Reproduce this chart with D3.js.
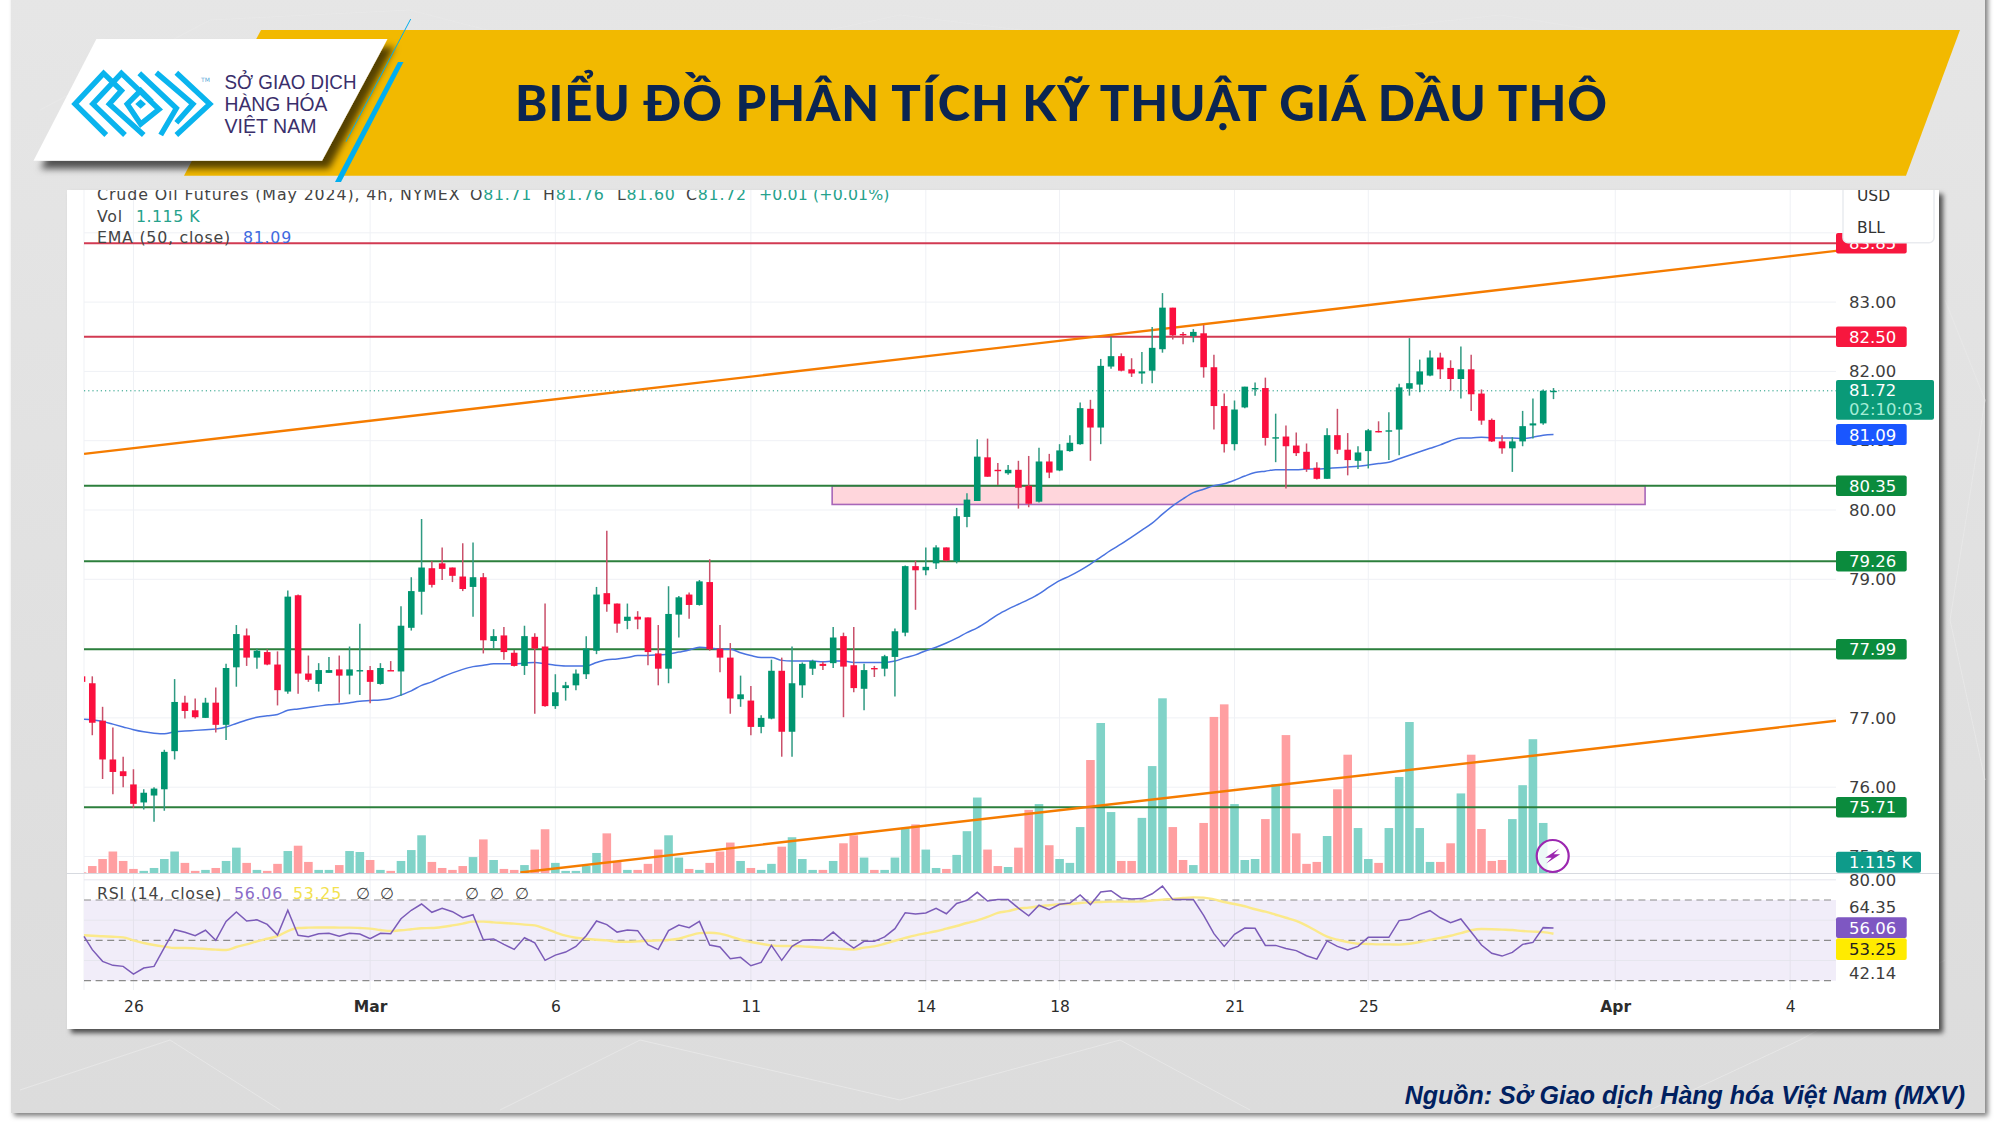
<!DOCTYPE html>
<html><head><meta charset="utf-8">
<script src="https://cdn.jsdelivr.net/npm/d3@7"></script>
<style>
html,body{margin:0;padding:0;background:#fff}
svg{display:block}
text{font-family:"DejaVu Sans",sans-serif}
</style></head><body>
<svg id="c" width="2000" height="1125"></svg>
<script>
const titleText="BIỂU ĐỒ PHÂN TÍCH KỸ THUẬT GIÁ DẦU THÔ";
const sourceText="Nguồn: Sở Giao dịch Hàng hóa Việt Nam (MXV)";
const logoLines=["SỞ GIAO DỊCH","HÀNG HÓA","VIỆT NAM"];
const opens=[77.60,77.50,76.96,76.40,76.23,76.04,75.78,75.88,75.97,76.52,77.22,77.11,77.00,77.22,76.90,77.73,78.19,77.87,77.95,77.77,77.38,78.77,77.64,77.49,77.65,77.70,77.61,77.68,77.69,77.49,77.69,77.67,78.30,78.82,79.16,79.23,79.17,79.04,78.89,79.03,78.11,78.19,77.94,77.75,78.17,78.03,77.17,77.43,77.47,77.63,77.97,78.80,78.65,78.40,78.46,78.45,77.93,77.71,78.49,78.78,78.63,78.96,78.00,77.87,77.27,77.25,76.87,76.99,77.68,76.80,77.47,77.71,77.78,77.79,78.18,77.76,77.42,77.72,77.71,77.88,78.23,79.19,79.13,79.23,79.46,79.26,79.90,80.13,80.76,80.58,80.53,80.58,80.35,80.12,80.70,80.57,80.85,80.95,81.46,81.19,82.07,82.22,82.03,81.97,82.01,82.32,82.92,82.54,82.51,82.55,82.06,81.50,80.95,81.48,81.75,81.76,81.04,81.06,80.93,80.84,80.61,80.45,81.08,80.87,80.71,80.85,81.14,81.14,81.16,81.75,81.81,81.94,82.20,82.05,81.89,82.03,81.68,81.30,80.99,80.89,80.99,81.22,81.25,81.71];
const highs=[77.65,77.60,77.16,76.86,76.44,76.26,75.97,76.00,76.54,77.56,77.32,77.28,77.29,77.44,77.78,78.34,78.29,78.00,77.99,77.96,78.84,78.78,77.90,77.79,77.88,77.90,78.03,78.36,77.75,77.79,77.82,78.61,79.03,79.87,79.26,79.46,79.17,79.52,79.53,79.09,78.28,78.31,77.98,78.33,78.22,78.65,77.63,77.52,77.70,78.18,78.89,79.70,78.65,78.65,78.54,78.45,78.34,78.90,78.76,78.81,78.99,79.29,78.34,78.08,77.61,77.46,77.04,77.84,77.87,78.03,77.80,77.84,77.81,78.31,78.23,78.31,77.78,77.75,77.91,78.29,79.20,79.27,79.46,79.49,79.46,80.03,80.24,81.02,81.03,80.68,80.65,80.71,80.78,80.90,80.81,80.95,81.08,81.55,81.59,82.18,82.50,82.26,82.19,82.28,82.64,83.13,82.92,82.57,82.61,82.67,82.24,81.68,81.58,81.78,81.84,81.91,81.39,81.22,81.12,80.96,80.69,81.18,81.46,81.11,80.92,81.17,81.28,81.41,81.82,82.48,82.17,82.30,82.27,82.16,82.36,82.24,81.74,81.32,81.08,81.05,81.43,81.61,81.74,81.76];
const lows=[77.49,76.75,76.12,75.90,76.00,75.70,75.68,75.50,75.66,76.40,76.99,76.99,77.00,76.79,76.68,77.45,77.75,77.71,77.76,77.18,77.35,77.35,77.52,77.38,77.65,77.22,77.34,77.33,77.21,77.48,77.68,77.32,78.26,78.49,78.88,78.99,78.96,78.83,78.46,77.93,78.00,77.84,77.74,77.62,77.06,77.16,77.13,77.25,77.40,77.56,77.92,78.53,78.23,78.28,78.28,77.76,77.47,77.50,78.16,78.43,78.62,77.97,77.66,77.06,77.16,76.75,76.78,76.98,76.44,76.44,77.29,77.62,77.69,77.72,77.01,77.37,77.11,77.59,77.60,77.31,78.18,78.56,79.06,79.15,79.26,79.23,79.75,80.13,80.48,80.36,80.51,80.02,80.04,80.11,80.46,80.56,80.84,80.94,80.71,80.95,82.04,82.00,81.92,81.82,81.83,82.27,82.46,82.39,82.42,81.91,81.16,80.83,80.86,81.47,81.65,80.93,80.69,80.31,80.78,80.55,80.44,80.45,80.81,80.50,80.59,80.60,81.12,80.72,80.79,81.65,81.70,81.93,81.89,81.72,81.61,81.43,81.23,80.98,80.81,80.55,80.92,81.03,81.23,81.60];
const closes=[77.52,76.93,76.40,76.22,76.16,75.76,75.92,75.98,76.51,77.23,77.10,77.01,77.22,76.90,77.72,78.21,77.87,77.97,77.77,77.40,78.75,77.64,77.55,77.69,77.69,77.61,77.70,77.69,77.52,77.72,77.68,78.33,78.83,79.17,78.92,79.15,79.05,78.86,79.03,78.12,78.18,77.95,77.75,78.18,78.00,77.17,77.37,77.47,77.64,78.00,78.78,78.64,78.36,78.46,78.42,77.95,77.71,78.50,78.74,78.63,78.97,77.99,77.87,77.28,77.34,76.87,77.00,77.68,76.80,77.50,77.78,77.82,77.75,78.16,77.74,77.43,77.69,77.71,77.89,78.25,79.19,79.13,79.18,79.46,79.27,79.91,80.15,80.77,80.48,80.56,80.58,80.32,80.09,80.70,80.54,80.86,80.97,81.47,81.19,82.08,82.22,82.01,81.97,82.00,82.34,82.92,82.52,82.53,82.57,82.06,81.50,80.95,81.45,81.78,81.76,81.04,81.05,80.92,80.82,80.59,80.45,81.08,80.87,80.72,80.83,81.15,81.13,81.15,81.77,81.83,82.00,82.20,82.03,81.89,82.03,81.67,81.29,80.99,80.89,80.99,81.21,81.25,81.72,81.72];
const volumes=[0.4,3.0,5.9,9.0,5.1,1.8,1.0,2.2,5.9,9.0,4.3,1.0,1.4,2.2,5.1,10.6,4.3,1.4,1.0,3.9,9.2,11.4,4.7,1.4,1.4,3.4,9.2,8.8,5.5,1.4,1.0,5.1,9.6,15.7,4.7,2.2,1.4,3.0,6.7,14.0,5.5,1.8,1.4,3.4,9.8,18.2,4.3,1.0,1.0,3.0,8.4,16.5,4.7,1.4,1.4,3.9,9.8,15.7,6.5,1.8,1.4,4.3,9.0,12.7,5.1,2.2,1.4,3.9,11.0,14.9,5.9,1.4,1.4,5.1,12.4,15.7,6.5,1.4,1.4,6.5,18.6,20.2,9.8,2.2,1.8,7.6,17.4,31.3,9.8,3.0,2.6,10.6,26.2,28.6,11.6,5.9,4.3,19.1,46.8,62.1,25.3,5.1,5.1,22.9,44.3,72.3,19.1,5.5,3.4,20.8,64.6,69.8,28.6,5.5,5.9,22.4,36.8,57.1,16.5,3.9,4.7,15.4,34.7,49.0,18.7,5.9,4.3,18.7,39.8,62.5,18.7,4.7,4.7,12.4,33.0,49.0,18.3,5.1,5.5,22.4,36.4,55.4,20.8,1.115];
const ema50=[76.98,76.97,76.95,76.91,76.87,76.83,76.80,76.78,76.77,76.80,76.81,76.82,76.83,76.84,76.87,76.92,76.97,77.01,77.03,77.05,77.11,77.13,77.15,77.17,77.19,77.20,77.22,77.24,77.25,77.26,77.28,77.33,77.39,77.47,77.52,77.59,77.65,77.70,77.74,77.76,77.78,77.78,77.78,77.79,77.80,77.78,77.76,77.75,77.75,77.75,77.80,77.84,77.85,77.87,77.90,77.90,77.91,77.92,77.95,77.98,78.02,78.01,77.99,77.99,77.94,77.90,77.87,77.87,77.83,77.82,77.82,77.82,77.81,77.82,77.82,77.80,77.80,77.80,77.80,77.82,77.87,77.91,77.97,78.02,78.08,78.15,78.23,78.30,78.39,78.49,78.57,78.64,78.71,78.79,78.89,78.98,79.05,79.13,79.22,79.32,79.42,79.51,79.61,79.71,79.81,79.94,80.06,80.16,80.25,80.30,80.35,80.38,80.43,80.49,80.54,80.56,80.58,80.58,80.58,80.59,80.59,80.60,80.61,80.62,80.63,80.65,80.67,80.69,80.74,80.79,80.84,80.89,80.94,81.00,81.04,81.04,81.05,81.04,81.04,81.04,81.03,81.05,81.08,81.09];
const rsi14=[52.0,45.4,39.6,37.6,37.1,33.3,36.3,37.1,46.4,55.3,54.0,52.3,55.0,50.0,59.4,64.1,59.6,60.2,57.9,52.6,64.9,52.5,51.8,53.3,53.5,52.1,53.5,53.1,50.8,53.5,53.3,60.7,64.9,68.0,63.9,65.9,64.2,61.2,62.7,50.3,50.7,48.0,45.5,51.3,48.8,40.1,42.7,44.2,47.0,52.3,59.6,57.8,54.1,55.1,54.8,47.9,45.4,54.8,57.6,56.3,59.4,47.7,46.7,40.9,41.6,37.4,39.1,47.5,40.1,47.0,50.0,50.3,50.0,54.1,49.7,46.2,49.5,49.5,51.7,55.8,63.7,63.1,63.6,65.9,63.2,68.3,69.8,73.8,69.5,70.2,70.2,66.0,62.2,67.4,65.2,67.9,68.5,72.5,67.7,74.0,74.6,71.0,70.5,70.7,73.1,76.9,70.2,70.2,70.2,62.4,53.3,47.0,53.0,56.1,56.0,47.5,47.5,46.0,44.9,42.4,40.7,49.7,47.0,45.2,47.0,51.5,51.5,51.5,59.8,60.4,62.9,64.7,61.2,58.8,60.6,54.1,47.7,43.6,42.2,44.0,48.0,49.0,56.3,56.06];
const rsiMa=[52.5,52.3,52.0,51.8,51.5,50.0,48.7,47.7,46.9,46.2,46.2,46.0,45.7,45.4,45.2,46.7,48.0,49.5,50.8,52.1,54.6,56.1,56.3,56.4,56.4,56.3,56.3,56.1,55.8,55.1,54.6,55.0,55.5,56.0,56.1,56.6,57.4,58.3,59.3,59.3,58.9,58.6,58.3,57.8,57.4,55.8,54.0,52.3,51.3,50.7,50.3,50.0,49.3,49.3,49.5,49.8,50.0,50.2,50.8,52.3,53.6,53.8,53.3,52.0,50.3,49.2,48.3,47.5,47.2,47.2,47.0,46.7,46.4,46.0,45.7,45.4,46.4,47.0,48.3,49.8,51.2,52.5,53.5,54.5,55.8,57.1,58.6,59.9,61.6,63.6,64.5,65.7,66.2,66.9,67.4,67.9,68.0,68.5,68.8,69.0,69.2,69.2,69.2,69.3,69.7,70.2,70.5,71.0,71.3,71.2,70.3,69.0,68.0,66.9,65.4,64.2,62.7,61.2,59.6,57.3,54.5,51.8,50.3,49.2,48.3,48.2,48.0,48.0,47.9,48.3,49.2,50.2,51.2,52.3,53.6,55.0,55.6,55.5,55.3,55.1,54.6,54.3,54.1,53.25];
const priceGrid=[84,83,82,81,80,79,78,77,76,75];
const priceLabels=[83,82,81,80,79,77,76,75];
const dateTickBars=[5,28,46,65,82,95,112,125,149,166];
const dateTickLabels=["26","Mar","6","11","14","18","21","25","Apr","4"];
const greenLevels=[80.35,79.26,77.99,75.71];
const redLevels=[83.85,82.50];
const rsiBands=[70,50,30];
const rsiGrid=[80,60,40];
const rsiExtraLabels=[["80.00",80],["64.35",66.6],["42.14",34]];
const upperTrend=[[0.2,80.81],[170.5,83.74]];
const lowerTrend=[[42.6,74.77],[170.5,76.96]];
const demandZone={x0:72.9,x1:151.9,top:80.35,bottom:80.08};
const lastPrice=81.72, lastEma=81.09, lastVol="1.115 K", countdown="02:10:03";
const ohlcLegend=[["O","81.71"],["H","81.76"],["L","81.60"],["C","81.72"]];

const svg=d3.select("#c");
const defs=svg.append("defs");
const shadow=(id,dx,dy,b,o)=>{const f=defs.append("filter").attr("id",id).attr("x","-10%").attr("y","-10%").attr("width","125%").attr("height","130%");
  f.append("feDropShadow").attr("dx",dx).attr("dy",dy).attr("stdDeviation",b).attr("flood-color","#000").attr("flood-opacity",o);};
shadow("cardS",4,4,2.5,.65);shadow("logoS",7,8,3.5,.65);shadow("pageS",3,3,2.5,.5);
const g0=defs.append("linearGradient").attr("id","bg").attr("x1",0).attr("x2",0).attr("y1",0).attr("y2",1);
g0.append("stop").attr("offset",0).attr("stop-color","#e6e6e6");g0.append("stop").attr("offset",1).attr("stop-color","#dcdcdc");
defs.append("clipPath").attr("id","plot").append("rect").attr("x",84).attr("y",190).attr("width",1752).attr("height",683.3);
defs.append("clipPath").attr("id","card").append("rect").attr("x",67).attr("y",190).attr("width",1872).attr("height",839);

// page background
svg.append("rect").attr("x",11).attr("y",-10).attr("width",1974).attr("height",1123).attr("fill","url(#bg)").attr("filter","url(#pageS)");
const deco=svg.append("g").attr("stroke","#e9e9e9").attr("stroke-width",1).attr("fill","none").attr("opacity",.8);
[[[40,110],[210,20],[410,10],[640,70]],[[640,70],[900,15],[1180,50],[1500,15],[1850,70]],[[1945,300],[1985,400],[1950,620],[1985,780]],[[1945,960],[1800,1040],[1650,1110]],[[1250,1110],[1120,1040],[900,1100],[640,1040],[500,1110]],[[280,1110],[170,1040],[20,1090]]].forEach(p=>deco.append("path").attr("d",d3.line()(p)));

// card
svg.append("rect").attr("x",67).attr("y",190).attr("width",1872).attr("height",839).attr("fill","#fff").attr("filter","url(#cardS)");
const card=svg.append("g").attr("clip-path","url(#card)");

// scales
const x=d3.scaleLinear().domain([0,143]).range([82,1553.5]);
const y=d3.scaleLinear().domain([75,84]).range([856.5,232.8]);
const yV=d3.scaleLinear().domain([0,72.3]).range([873.3,698.3]);
const yR=d3.scaleLinear().domain([30,70]).range([980.7,900]);
const GRID="#eff1f5";

// grid
const gridG=card.append("g").attr("stroke",GRID).attr("stroke-width",1);
priceGrid.forEach(p=>gridG.append("line").attr("x1",84).attr("x2",1836).attr("y1",y(p)).attr("y2",y(p)));
dateTickBars.forEach(b=>{gridG.append("line").attr("x1",x(b)).attr("x2",x(b)).attr("y1",190).attr("y2",873);
  gridG.append("line").attr("x1",x(b)).attr("x2",x(b)).attr("y1",874).attr("y2",990);});
gridG.append("line").attr("x1",84).attr("x2",84).attr("y1",190).attr("y2",990);

// volume
const plot=card.append("g").attr("clip-path","url(#plot)");
plot.selectAll(".vol").data(volumes).join("rect").attr("class","vol")
  .attr("x",(d,i)=>x(i)-4.3).attr("width",8.6)
  .attr("y",d=>yV(d)).attr("height",d=>yV(0)-yV(d))
  .attr("fill",(d,i)=>closes[i]>=opens[i]?"#80d3c8":"#ff9fa1");

// zone
plot.append("rect").attr("x",x(demandZone.x0)).attr("width",x(demandZone.x1)-x(demandZone.x0))
  .attr("y",y(demandZone.top)).attr("height",y(demandZone.bottom)-y(demandZone.top))
  .attr("fill","#ffd6dc").attr("stroke","#a866b8").attr("stroke-width",1.6);

// level lines
greenLevels.forEach(p=>plot.append("line").attr("x1",84).attr("x2",1836).attr("y1",y(p)).attr("y2",y(p)).attr("stroke","#2c7f3c").attr("stroke-width",2));
redLevels.forEach(p=>plot.append("line").attr("x1",84).attr("x2",1836).attr("y1",y(p)).attr("y2",y(p)).attr("stroke","#d23a52").attr("stroke-width",2));
// trend lines
[upperTrend,lowerTrend].forEach(t=>plot.append("line").attr("x1",x(t[0][0])).attr("y1",y(t[0][1])).attr("x2",x(t[1][0])).attr("y2",y(t[1][1])).attr("stroke","#f57c00").attr("stroke-width",2.4));
// last price
plot.append("line").attr("x1",84).attr("x2",1836).attr("y1",y(lastPrice)).attr("y2",y(lastPrice)).attr("stroke","#1a9a80").attr("stroke-width",1).attr("stroke-dasharray","1.2 3");
// EMA
plot.append("path").datum(ema50).attr("fill","none").attr("stroke","#4a73e0").attr("stroke-width",1.5)
  .attr("d",d3.line().x((d,i)=>Math.max(84,x(i))).y(d=>y(d)).curve(d3.curveMonotoneX));
// candles
const cg=plot.selectAll(".cdl").data(opens).join("g").attr("class","cdl");
cg.append("line").attr("x1",(d,i)=>x(i)).attr("x2",(d,i)=>x(i)).attr("y1",(d,i)=>y(highs[i])).attr("y2",(d,i)=>y(lows[i]))
  .attr("stroke",(d,i)=>closes[i]>=opens[i]?"#2f9a82":"#c9506a").attr("stroke-width",1.5);
cg.append("rect").attr("x",(d,i)=>x(i)-3.3).attr("width",6.6)
  .attr("y",(d,i)=>y(Math.max(opens[i],closes[i])))
  .attr("height",(d,i)=>Math.max(1.4,Math.abs(y(opens[i])-y(closes[i]))))
  .attr("fill",(d,i)=>closes[i]>=opens[i]?"#009570":"#fb0f3e");

// separator
card.append("line").attr("x1",67).attr("x2",1939).attr("y1",873.5).attr("y2",873.5).attr("stroke","#d7dae0").attr("stroke-width",1);

// RSI pane
card.append("rect").attr("x",84).attr("width",1752).attr("y",yR(70)).attr("height",yR(30)-yR(70)).attr("fill","#f1edf9");
rsiGrid.forEach(r=>card.append("line").attr("x1",84).attr("x2",1836).attr("y1",yR(r)).attr("y2",yR(r)).attr("stroke","#e6e6ee").attr("stroke-width",1));
dateTickBars.forEach(b=>card.append("line").attr("x1",x(b)).attr("x2",x(b)).attr("y1",900).attr("y2",980).attr("stroke","#e4e2ec"));
rsiBands.forEach(r=>card.append("line").attr("x1",84).attr("x2",1832).attr("y1",yR(r)).attr("y2",yR(r)).attr("stroke","#8b8b8b").attr("stroke-width",1.2).attr("stroke-dasharray","7 4.6"));
card.append("path").datum(rsiMa).attr("fill","none").attr("stroke","#fbe98a").attr("stroke-width",2.4)
  .attr("d",d3.line().x((d,i)=>Math.max(84,x(i))).y(d=>yR(d)).curve(d3.curveMonotoneX));
card.append("path").datum(rsi14).attr("fill","none").attr("stroke","#7b5bb8").attr("stroke-width",1.5)
  .attr("d",d3.line().x((d,i)=>Math.max(84,x(i))).y(d=>yR(d)));

// axes
const axisFmt=d=>d.toFixed(2);
const ay=card.append("g").attr("transform","translate(1849,0)").call(d3.axisRight(y).tickValues(priceLabels).tickFormat(axisFmt).tickSize(0).tickPadding(0));
ay.select(".domain").remove();
ay.selectAll("text").attr("fill","#3d3d3d").style("font-size","16.5px").style("font-family","'DejaVu Sans'");
const ax=card.append("g").attr("transform","translate(0,1001)").call(d3.axisBottom(x).tickValues(dateTickBars).tickFormat((d,i)=>dateTickLabels[i]).tickSize(0).tickPadding(0));
ax.select(".domain").remove();
ax.selectAll("text").attr("fill","#2c2c2c").attr("dy","0.7em").style("font-size","15.5px").style("font-family","'DejaVu Sans'")
  .style("font-weight",(d,i)=>/[A-Z]/.test(dateTickLabels[i])?"bold":"normal");
rsiExtraLabels.forEach(l=>card.append("text").attr("x",1849).attr("y",yR(l[1])+6).attr("font-size",16.5).attr("fill","#3d3d3d").text(l[0]));

// right labels
function lab(yTop,h,w,fill,txt,tcol){
  card.append("rect").attr("x",1836).attr("y",yTop).attr("width",w).attr("height",h).attr("rx",2).attr("fill",fill);
  card.append("text").attr("x",1849).attr("y",yTop+h/2+6).attr("font-size",16.5).attr("fill",tcol||"#fff").text(txt);
}
const lvl=(p,fill)=>lab(y(p)-10.3,20.6,70.7,fill,p.toFixed(2));
lvl(83.85,"#f7173e");lvl(82.50,"#f7173e");
lvl(80.35,"#0b8b3d");lvl(79.26,"#0b8b3d");lvl(77.99,"#0b8b3d");lvl(75.71,"#0b8b3d");
card.append("rect").attr("x",1836).attr("y",380).attr("width",98).attr("height",39.7).attr("rx",2).attr("fill","#0a9a78");
card.append("text").attr("x",1849).attr("y",396).attr("font-size",16.5).attr("fill","#fff").text(lastPrice.toFixed(2));
card.append("text").attr("x",1849).attr("y",415).attr("font-size",16.5).attr("fill","#a4ecd6").text(countdown);
lab(424,21,70.7,"#1a56ff",lastEma.toFixed(2));
lab(851.7,21,85,"#0e9b8a",lastVol);
lab(917.3,20.8,70.7,"#7e57c2",rsi14[143].toFixed(2));
lab(938.3,21.7,70.7,"#ffeb00",rsiMa[143].toFixed(2),"#222");

// currency box
card.append("rect").attr("x",1843).attr("y",170).attr("width",91).attr("height",72.7).attr("rx",5).attr("fill","#fff").attr("stroke","#e9ebef").attr("stroke-width",1.5);
card.append("text").attr("x",1857).attr("y",201).attr("font-size",15.5).attr("fill","#333").text("USD");
card.append("text").attr("x",1857).attr("y",233).attr("font-size",15.5).attr("fill","#333").text("BLL");

// legends
const LG="#444",GR="#26a28c",FS=15.8,LS=0.75;
const leg=(px,py,col,txt,ls)=>card.append("text").attr("x",px).attr("y",py).attr("font-size",FS).attr("letter-spacing",ls===undefined?LS:ls).attr("fill",col).text(txt);
leg(97,200,LG,"Crude Oil Futures (May 2024), 4h, NYMEX",0.9);
const ohlcX=[470,543,617,686];
ohlcLegend.forEach((o,i)=>{const t=leg(ohlcX[i],200,LG,"");
  t.append("tspan").text(o[0]);t.append("tspan").attr("fill",GR).text(o[1]);});
leg(759,200,GR,"+0.01 (+0.01%)",0.1);
leg(97,221.5,LG,"Vol");
leg(136,221.5,GR,"1.115 K",0.5);
leg(97,243,LG,"EMA (50, close)");
leg(243,243,"#3f6be0",lastEma.toFixed(2));
leg(97,899,LG,"RSI (14, close)");
leg(234,899,"#8a6cc8",rsi14[143].toFixed(2));
leg(293,899,"#f3e24f",rsiMa[143].toFixed(2));
[361,385,470,495,520].forEach(px=>leg(px-5,899,LG,"∅",0));

// bolt
const bolt=card.append("g").attr("transform","translate(1552.7,856)");
bolt.append("circle").attr("r",16).attr("fill","#fff").attr("fill-opacity",.85).attr("stroke","#9c27b0").attr("stroke-width",2.2);
bolt.append("path").attr("d","M6.5,-7.5 L-7.5,1.8 L-1,1.8 L-6.5,7.5 L7.5,-1.8 L1,-1.8 Z").attr("fill","#9c27b0");

// header
svg.append("path").attr("d","M261,30 L1960,30 L1906,175.7 L184,175.7 Z").attr("fill","#f2b900");
svg.append("path").attr("d","M96.4,39 L387.5,39 L322,160.7 L33.5,160.7 Z").attr("fill","#fff").attr("filter","url(#logoS)");
svg.append("line").attr("x1",410.7).attr("y1",19).attr("x2",346).attr("y2",141.7).attr("stroke","#00aeef").attr("stroke-width",1);
svg.append("path").attr("d","M398,62 L403.5,62 L341,182 L335,182 Z").attr("fill","#00aeef");
svg.append("text").attr("x",1061).attr("y",121).attr("text-anchor","middle").attr("fill","#0b2551")
  .style("font-family","Lato").style("font-weight",900).style("font-size","49px").attr("textLength",1092).text(titleText);

// logo mark
const sx=2.24,sy=3;
const logoPaths=[
 [[238,405],[168,312],[232,220],[272,272],[245,312],[322,405]],
 [[280,405],[208,312],[272,220],[356,328],[315,372],[285,312],[315,272],[340,305]],
 [[312,220],[395,325],[360,405]],
 [[350,218],[432,312],[395,368]],
 [[395,218],[470,312],[395,405]],
];
const lg=svg.append("g").attr("fill","none").attr("stroke","#0ab4ee").attr("stroke-width",5.4).attr("stroke-linejoin","miter");
logoPaths.forEach(p=>lg.append("path").attr("d",d3.line().x(d=>d[0]/sx).y(d=>d[1]/sy)(p)));
svg.append("path").attr("d",d3.line().x(d=>d[0]/sx).y(d=>d[1]/sy)([[315,298],[327,312],[315,326],[303,312]])+"Z").attr("fill","#0ab4ee");
svg.append("text").attr("x",201).attr("y",82).attr("font-size",6).attr("fill","#5aa9d8").text("TM");
logoLines.forEach((s,i)=>svg.append("text").attr("x",224.5).attr("y",89+i*22).attr("fill","#3a2f6b")
  .style("font-family","'Liberation Sans Narrow','Liberation Sans'").style("font-size","20px")
  .attr("textLength",[132,103,92][i]).attr("lengthAdjust","spacingAndGlyphs").text(s));

// source
svg.append("text").attr("x",1965).attr("y",1104).attr("text-anchor","end").attr("fill","#002060")
  .style("font-family","'Liberation Sans'").style("font-weight","bold").style("font-style","italic").style("font-size","25px").text(sourceText);
</script></body></html>
